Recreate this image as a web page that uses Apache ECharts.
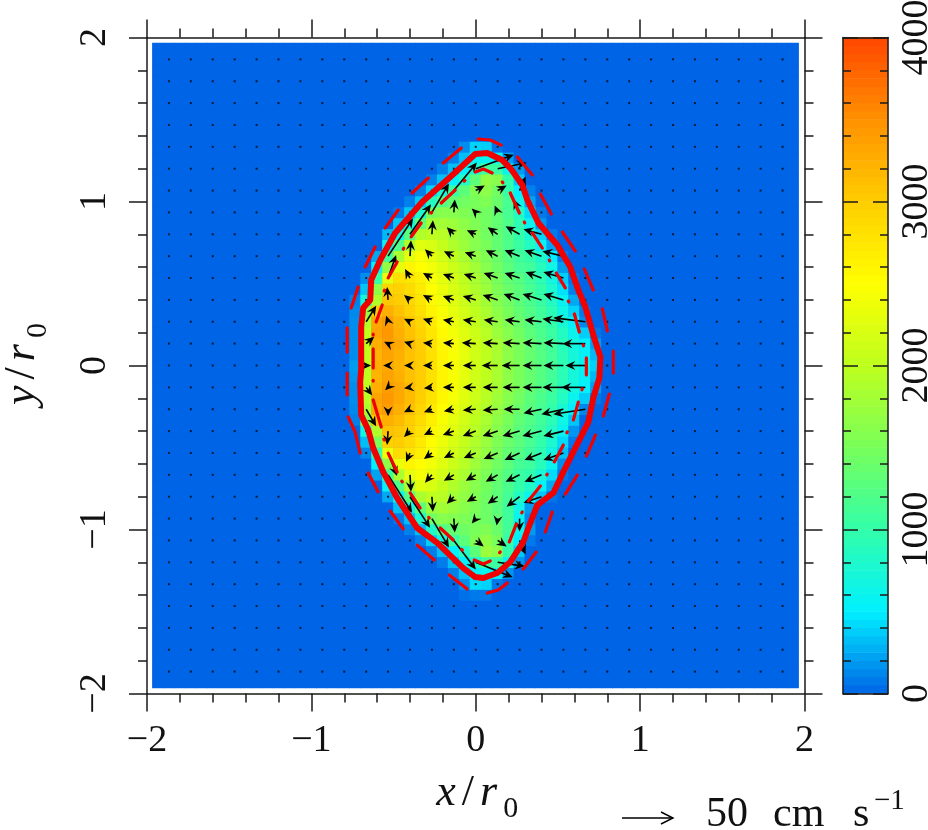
<!DOCTYPE html>
<html>
<head>
<meta charset="utf-8">
<style>html,body{margin:0;padding:0;background:#fff}#c{width:928px;height:830px}</style>
<script src="https://cdn.jsdelivr.net/npm/echarts@6/dist/echarts.min.js"></script>
</head>
<body>
<div id="c"></div>
<script>
// Colour-field rows: [row index j (y = j/15), first column k (x = k/15), values...]; everything else is 0
const fieldRowsTop = [
 [20,-1,[150,400,380,60]],
 [19,-2,[100,330,550,600,550,200]],
 [18,-3,[100,330,520,800,1100,1050,600,200]],
 [17,-4,[100,330,520,850,1300,1700,1600,1000,350]],
 [16,-5,[100,400,750,1050,1300,1550,1650,1450,1000,520,100]],
 [15,-6,[100,350,850,1250,1350,1450,1500,1550,1400,1150,620,220]],
 [14,-7,[80,350,800,1500,1600,1600,1550,1500,1450,1350,1150,850,420,80]],
 [13,-7,[350,700,1350,1800,1800,1750,1650,1550,1450,1350,1200,950,600,180]],
 [12,-8,[300,650,1250,1900,2000,1950,1800,1700,1600,1450,1350,1200,1000,750,400,80]],
 [11,-8,[600,1200,1900,2250,2200,2050,1900,1750,1600,1500,1350,1200,1050,850,560,220]],
 [10,-9,[250,1100,1850,2300,2450,2300,2150,2000,1850,1700,1550,1400,1250,1100,1000,800,500,80]],
 [9,-9,[550,1700,2300,2600,2500,2400,2250,2100,1950,1800,1600,1450,1300,1150,1100,900,650,200]],
 [8,-10,[150,1000,2300,2800,2750,2650,2450,2300,2150,2000,1850,1700,1500,1350,1250,1100,950,700,380,60]],
 [7,-10,[350,1650,2900,2950,2850,2700,2500,2350,2200,2050,1900,1750,1550,1400,1300,1150,1000,780,450,100]],
 [6,-11,[100,700,1900,3050,3000,2900,2750,2550,2400,2250,2100,1950,1800,1600,1450,1300,1180,1050,850,580,250]],
 [5,-11,[130,1700,3000,3250,3100,2950,2800,2600,2450,2300,2150,2000,1850,1650,1500,1350,1220,1100,930,650,400,80]],
 [4,-11,[150,1900,3300,3400,3200,3050,2900,2700,2500,2350,2200,2050,1900,1700,1550,1400,1270,1150,1000,750,500,130]],
 [3,-11,[150,2000,3350,3450,3250,3100,2950,2750,2550,2400,2250,2100,1950,1750,1600,1450,1300,1180,1050,850,600,380,60]],
 [2,-11,[150,2050,3250,3400,3300,3150,3000,2800,2600,2450,2280,2120,1980,1830,1640,1490,1350,1220,1100,900,680,520,200]],
 [1,-11,[150,2000,3200,3350,3250,3100,3000,2800,2600,2450,2300,2130,2000,1850,1650,1500,1370,1250,1120,920,720,540,300]],
 [0,-11,[200,1950,3250,3300,3200,3100,3000,2800,2600,2450,2300,2130,2000,1850,1650,1500,1370,1250,1130,950,750,570,400]]
];
const fieldRowsBottom = [
 [-1,-11,[180,2000,3200,3350,3250,3100,3000,2800,2600,2450,2300,2130,2000,1850,1650,1500,1370,1250,1120,920,720,540,300]],
 [-2,-11,[150,2000,3250,3400,3300,3150,3000,2800,2600,2450,2280,2120,1980,1830,1640,1490,1350,1220,1100,900,680,520,200]],
 [-3,-11,[150,1950,3350,3450,3300,3150,2980,2780,2580,2420,2260,2100,1950,1780,1610,1450,1300,1180,1050,850,600,380,60]],
 [-4,-11,[130,1850,3300,3400,3250,3100,2920,2720,2520,2360,2200,2050,1900,1720,1560,1400,1270,1150,1000,750,500,120]],
 [-5,-11,[100,1600,3050,3250,3150,3000,2850,2650,2450,2300,2150,2000,1850,1660,1500,1340,1220,1100,930,650,350]],
 [-6,-10,[700,1900,3100,3050,2950,2780,2580,2400,2250,2100,1950,1800,1600,1450,1290,1180,1050,850,580,180]],
 [-7,-10,[320,1500,2950,3000,2880,2720,2520,2350,2200,2050,1900,1740,1550,1400,1290,1150,1000,780,420,70]],
 [-8,-10,[120,950,2350,2850,2780,2650,2460,2300,2150,2000,1850,1690,1500,1350,1250,1100,950,680,320]],
 [-9,-9,[500,1650,2350,2600,2520,2400,2250,2100,1950,1780,1600,1450,1300,1140,1080,900,600,150]],
 [-10,-9,[230,1050,1850,2300,2430,2300,2150,2000,1850,1680,1530,1380,1230,1060,980,750,430,80]],
 [-11,-8,[550,1200,1900,2250,2200,2050,1900,1750,1600,1480,1330,1180,1000,820,560,250]],
 [-12,-8,[250,600,1250,1850,2000,1950,1800,1680,1560,1430,1300,1130,850,600,350,60]],
 [-13,-7,[320,680,1300,1750,1800,1720,1620,1520,1420,1300,1080,650,200]],
 [-14,-7,[80,320,780,1450,1600,1580,1530,1480,1430,1330,1100,600,130]],
 [-15,-6,[100,320,820,1230,1350,1430,1500,1550,1400,1100,600,200]],
 [-16,-5,[100,380,720,1030,1300,1550,1680,1500,1000,500,80]],
 [-17,-4,[90,320,520,850,1300,1750,1650,1000,350]],
 [-18,-3,[90,320,520,800,1100,1050,600,180]],
 [-19,-2,[100,330,550,600,500,180]],
 [-20,-1,[150,420,400,70]],
 [-21,-1,[50,80,80]]
];
// Velocity field in cm/s. Rows y = 9..-9 (x 2/15 steps), columns x index -5..5 (2/15 steps)
const arrowRowIndex = [9,8,7,6,5,4,3,2,1,0,-1,-2,-3,-4,-5,-6,-7,-8,-9];
const arrowU = [
 [0,0,0,0,0,38,29,0,0,0,0],
 [0,0,0,0,23,9,9,6,0,0,0],
 [0,0,0,17,1,-4,-3,-6,0,0,0],
 [0,0,21,1,-7,-9,-10,-14,-18,0,0],
 [0,25,1,-7,-10,-11,-12,-15,-17,-21,0],
 [0,8,-5,-9,-11,-12,-14,-15,-16,-20,0],
 [0,-1,-6,-9,-11,-13,-15,-16,-19,-20,0],
 [10,-2,-6,-9,-11,-13,-14,-15,-17,-21,-32],
 [8,-4,-6,-9,-11,-14,-15,-17,-19,-20,-23],
 [5,-5,-6,-9,-11,-13,-16,-18,-19,-20,-20],
 [6,-3,-6,-8,-11,-13,-15,-17,-19,-21,-24],
 [10,0,-6,-8,-10,-13,-15,-16,-18,-22,-32],
 [0,-1,-6,-8,-11,-13,-15,-17,-19,-20,0],
 [0,9,-4,-8,-10,-12,-14,-15,-17,-20,0],
 [0,24,1,-7,-10,-10,-12,-14,-17,0,0],
 [0,0,20,1,-7,-9,-10,-13,-18,0,0],
 [0,0,0,17,1,-4,-1,0,0,0,0],
 [0,0,0,0,22,8,9,6,0,0,0],
 [0,0,0,0,0,37,27,0,0,0,0]
];
const arrowV = [
 [0,0,0,0,0,14,6,0,0,0,0],
 [0,0,0,0,28,5,5,14,0,0,0],
 [0,0,0,29,13,4,7,13,0,0,0],
 [0,0,30,14,7,4,7,8,5,0,0],
 [0,38,16,7,5,4,6,6,6,5,0],
 [0,23,9,5,4,4,5,5,6,6,0],
 [0,13,5,5,4,4,5,6,6,6,0],
 [16,6,3,3,2,2,2,2,2,3,4],
 [7,2,2,1,1,1,1,1,1,1,0],
 [0,0,0,0,0,0,0,0,0,0,0],
 [-8,-3,-1,-1,0,0,0,0,0,0,0],
 [-17,-7,-3,-3,-2,-1,-1,0,-4,-5,-5],
 [0,-14,-6,-4,-4,-5,-5,-5,-5,-5,0],
 [0,-23,-9,-6,-5,-5,-6,-7,-7,-7,0],
 [0,-38,-17,-8,-6,-6,-7,-7,-7,0,0],
 [0,0,-31,-15,-7,-5,-7,-10,-6,0,0],
 [0,0,0,-29,-14,-5,-7,-13,0,0,0],
 [0,0,0,0,-29,-6,-6,-14,0,0,0],
 [0,0,0,0,0,-15,-4,0,0,0,0]
];
// Contours (x/r0, y/r0)
const contourMain = [[-.697,-.027],[-.697,.235],[-.685,.351],[-.642,.399],[-.636,.521],[-.581,.643],[-.49,.808],[-.326,.997],[-.155,1.149],[-.003,1.29],[.07,1.296],[.161,1.253],[.21,1.204],[.283,1.101],[.314,1.009],[.381,.869],[.496,.735],[.575,.601],[.624,.46],[.667,.357],[.715,.186],[.758,.052],[.752,-.076],[.715,-.198],[.685,-.345],[.624,-.466],[.533,-.649],[.472,-.777],[.374,-.851],[.32,-.991],[.289,-1.076],[.21,-1.198],[.131,-1.265],[.046,-1.296],[-.003,-1.29],[-.076,-1.235],[-.234,-1.082],[-.356,-.991],[-.478,-.808],[-.563,-.649],[-.624,-.503],[-.654,-.393],[-.697,-.302],[-.703,-.101],[-.697,-.027]];
const contourOuter = [
 [[.015,1.381],[.088,1.375],[.155,1.344]],[[-.198,1.235],[-.088,1.326]],[[-.387,1.052],[-.289,1.143]],[[-.551,.838],[-.472,.948]],
 [[-.673,.601],[-.612,.723]],[[-.758,.351],[-.715,.479]],[[-.782,.229],[-.782,.082]],[[-.782,-.046],[-.782,-.18]],
 [[-.776,-.314],[-.734,-.405],[-.703,-.534]],[[-.654,-.655],[-.594,-.771]],[[-.521,-.887],[-.441,-.997]],[[-.356,-1.095],[-.253,-1.186]],
 [[-.161,-1.277],[-.052,-1.363]],[[.07,-1.387],[.137,-1.369],[.192,-1.326]],[[.289,-1.241],[.368,-1.137]],[[.423,-1.015],[.466,-.893]],
 [[.545,-.784],[.618,-.668]],[[.673,-.552],[.728,-.424]],[[.776,-.308],[.813,-.174]],[[.837,.088],[.837,-.046]],
 [[.77,.345],[.801,.21]],[[.661,.588],[.715,.46]],[[.527,.814],[.606,.698]],[[.393,1.046],[.46,.924]],[[.253,1.271],[.344,1.162]]
];
const contourInner = [
 [[-.003,1.18],[.046,1.198],[.1,1.174]],[[.161,1.119],[.165,1.114]],[[.21,1.052],[.265,.93]],[[.295,.875],[.298,.87]],
 [[.344,.808],[.405,.716]],[[.447,.643],[.45,.638]],[[.49,.564],[.545,.473]],[[.563,.393],[.566,.388]],
 [[.6,.314],[.63,.204]],[[.654,.125],[.656,.12]],[[.673,.046],[.673,-.058]],[[.648,-.143],[.646,-.148]],
 [[.624,-.223],[.594,-.332]],[[.557,-.405],[.554,-.41]],[[.533,-.485],[.478,-.588]],[[.435,-.662],[.432,-.667]],
 [[.393,-.735],[.32,-.826]],[[.283,-.893],[.28,-.898]],[[.247,-.966],[.204,-1.076]],[[.149,-1.137],[.145,-1.141]],
 [[.088,-1.192],[.046,-1.21],[-.009,-1.186]],[[-.082,-1.125],[-.086,-1.121]],[[-.137,-1.064],[-.216,-.991]],[[-.283,-.93],[-.286,-.926]],
 [[-.338,-.869],[-.399,-.777]],[[-.447,-.71],[-.45,-.705]],[[-.478,-.649],[-.533,-.534]],[[-.557,-.454],[-.559,-.449]],
 [[-.575,-.375],[-.624,-.21]],[[-.624,-.095],[-.624,-.09]],[[-.624,-.015],[-.624,.101]],[[-.624,.186],[-.624,.191]],
 [[-.606,.265],[-.569,.369]],[[-.557,.454],[-.555,.459]],[[-.533,.534],[-.478,.631]],[[-.441,.71],[-.438,.715]],
 [[-.393,.784],[-.332,.869]],[[-.271,.93],[-.268,.934]],[[-.21,.991],[-.125,1.07]],[[-.07,1.125],[-.066,1.129]]
];
const plotTicks = {min:-2,max:2,interval:1};
const barTicks = {min:0,max:4000,interval:1000};
const colorStops = ['#0064e6','#00f0ff','#32ffaa','#78ff5a','#beff1e','#ffff00','#ffcd00','#ff9100','#ff4600'];

const SERIF = '"Liberation Serif", serif';
const INK = '#1a1a1a';
const fieldKeys = []; for (let k=-29;k<=29;k++) fieldKeys.push(k);
const cell = {};
[...fieldRowsTop,...fieldRowsBottom].forEach(([j,k0,vals])=>vals.forEach((v,i)=>{cell[j+'_'+(k0+i)]=v;}));
const fieldData = [];
fieldKeys.forEach((j,yi)=>fieldKeys.forEach((k,xi)=>fieldData.push([xi,yi,cell[j+'_'+k]||0])));

// Velocity field on every second cell
const cmPerUnit = 164.25;
const arrowData = [];
for (let j=-14;j<=14;j++) for (let k=-14;k<=14;k++){
  const r = arrowRowIndex.indexOf(j), c = k+5;
  const u = (r>=0 && c>=0 && c<11) ? arrowU[r][c] : 0;
  const v = (r>=0 && c>=0 && c<11) ? arrowV[r][c] : 0;
  const x = k*2/15, y = j*2/15;
  arrowData.push([x,y,x+u/cmPerUnit,y+v/cmPerUnit]);
}
const barLevels = []; for (let i=0;i<80;i++) barLevels.push(i);
const barData = barLevels.map(i=>[0,i,(i+0.5)*barTicks.max/80]);
const segs = list => list.flatMap(s=>[...s,['-','-']]);

function renderArrow(params, api){
  const a = api.coord([api.value(0),api.value(1)]);
  const b = api.coord([api.value(2),api.value(3)]);
  const dx=b[0]-a[0], dy=b[1]-a[1], len=Math.hypot(dx,dy);
  if (len<0.5) return {type:'rect',shape:{x:a[0]-1,y:a[1]-1,width:2,height:2},style:{fill:'#0a1a30'}};
  const ux=dx/len, uy=dy/len, H=10, W=4.6, N=6.5;
  const px=-uy, py=ux;
  return {type:'group',children:[
    {type:'line',shape:{x1:a[0],y1:a[1],x2:b[0]-ux*3,y2:b[1]-uy*3},style:{stroke:'#000',lineWidth:1.6}},
    {type:'polygon',shape:{points:[[b[0],b[1]],[b[0]-ux*H+px*W,b[1]-uy*H+py*W],[b[0]-ux*N,b[1]-uy*N],[b[0]-ux*H-px*W,b[1]-uy*H-py*W]]},style:{fill:'#000'}}
  ]};
}
const minusFmt = v => String(v).replace('-','\u2212');
const tickLabel = (show,extra)=>Object.assign({show,fontFamily:SERIF,fontSize:38,color:'#111',formatter:minusFmt,showMinLabel:true,showMaxLabel:true,hideOverlap:false},extra||{});
const lineS = {color:INK,width:1.5};
const valAxis = (grid,pos,labelOn,extra)=>Object.assign({
  type:'value',gridIndex:grid,position:pos,min:plotTicks.min,max:plotTicks.max,interval:plotTicks.interval,z:6,
  axisLine:{show:true,onZero:false,lineStyle:lineS},
  axisTick:{show:true,length:18,lineStyle:lineS},
  minorTick:{show:true,splitNumber:5,length:9,lineStyle:lineS},
  splitLine:{show:false},minorSplitLine:{show:false},
  axisLabel:tickLabel(labelOn)
},extra||{});
const nameRich = {
  i:{fontFamily:SERIF,fontStyle:'italic',fontSize:44,color:'#111',padding:[0,3,9,3]},
  n:{fontFamily:SERIF,fontSize:44,color:'#111',padding:[0,3,9,3]},
  s:{fontFamily:SERIF,fontSize:30,color:'#111',verticalAlign:'bottom',padding:[0,0,0,3]}
};
const hidden = (type,grid,extra)=>Object.assign({type,gridIndex:grid,show:false},extra||{});
const noBounds = {outerBoundsMode:'none',containLabel:false};

const option = {
  animation:false,
  backgroundColor:'#fff',
  grid:[
    {left:152.48,top:43,width:646.05,height:645,show:true,borderWidth:0,backgroundColor:colorStops[0],...noBounds},
    {left:147,top:37.5,width:657.5,height:656,show:false,...noBounds},
    {left:843,top:37.5,width:45,height:656,show:false,...noBounds},
    {left:843,top:37.5,width:45,height:656,show:false,...noBounds}
  ],
  visualMap:[{type:'continuous',show:false,min:barTicks.min,max:barTicks.max,seriesIndex:[0,5],dimension:2,inRange:{color:colorStops}}],
  xAxis:[
    hidden('category',0,{data:fieldKeys}),
    valAxis(1,'bottom',true,{name:'{i|x}{n|/}{i|r}{s|0}',nameLocation:'middle',nameGap:78,nameTextStyle:{rich:nameRich},axisLabel:tickLabel(true,{margin:29})}),
    valAxis(1,'top',false),
    hidden('category',2,{data:['c']}),
    {type:'value',gridIndex:3,position:'top',min:0,max:1,z:6,axisLine:{show:true,onZero:false,lineStyle:lineS},axisTick:{show:false},axisLabel:{show:false},splitLine:{show:false}},
    {type:'value',gridIndex:3,position:'bottom',min:0,max:1,z:6,axisLine:{show:true,onZero:false,lineStyle:lineS},axisTick:{show:false},axisLabel:{show:false},splitLine:{show:false}}
  ],
  yAxis:[
    hidden('category',0,{data:fieldKeys}),
    valAxis(1,'left',true,{name:'{i|y}{n|/}{i|r}{s|0}',nameLocation:'middle',nameRotate:90,nameGap:94,nameTextStyle:{rich:nameRich},axisLabel:tickLabel(true,{rotate:90,margin:33})}),
    valAxis(1,'right',false),
    hidden('category',2,{data:barLevels}),
    {type:'value',gridIndex:3,position:'left',min:barTicks.min,max:barTicks.max,interval:barTicks.interval,z:6,
      axisLine:{show:true,onZero:false,lineStyle:lineS},axisTick:{show:true,inside:true,length:15,lineStyle:lineS},
      minorTick:{show:true,splitNumber:5,length:8,lineStyle:lineS},splitLine:{show:false},axisLabel:{show:false}},
    {type:'value',gridIndex:3,position:'right',min:barTicks.min,max:barTicks.max,interval:barTicks.interval,z:6,
      axisLine:{show:true,onZero:false,lineStyle:lineS},axisTick:{show:true,inside:true,length:15,lineStyle:lineS},
      minorTick:{show:true,splitNumber:5,length:8,lineStyle:lineS},splitLine:{show:false},
      axisLabel:tickLabel(true,{rotate:90,margin:10})}
  ],
  series:[
    {type:'heatmap',xAxisIndex:0,yAxisIndex:0,data:fieldData,progressive:0,z:1,silent:true,emphasis:{disabled:true}},
    {type:'custom',xAxisIndex:1,yAxisIndex:1,data:arrowData,renderItem:renderArrow,encode:{x:[0,2],y:[1,3]},z:3,silent:true,clip:false},
    {type:'line',xAxisIndex:1,yAxisIndex:1,data:contourMain,showSymbol:false,symbol:'none',lineStyle:{color:'#f00000',width:6,join:'round',cap:'round'},z:4,silent:true},
    {type:'line',xAxisIndex:1,yAxisIndex:1,data:segs(contourOuter),connectNulls:false,showSymbol:false,symbol:'none',lineStyle:{color:'#f00000',width:3.2,cap:'round'},z:4,silent:true},
    {type:'line',xAxisIndex:1,yAxisIndex:1,data:segs(contourInner),connectNulls:false,showSymbol:false,symbol:'none',lineStyle:{color:'#f00000',width:3.2,cap:'round'},z:4,silent:true},
    {type:'heatmap',xAxisIndex:3,yAxisIndex:3,data:barData,progressive:0,z:1,silent:true,emphasis:{disabled:true}}
  ],
  graphic:[
    {type:'line',shape:{x1:622,y1:818,x2:673,y2:818},style:{stroke:'#000',lineWidth:1.4},z:10},
    {type:'polyline',shape:{points:[[661,812],[673,818],[661,824]]},style:{stroke:'#000',lineWidth:1.4,fill:null},z:10},
    {type:'text',x:706,y:836,style:{text:'50',fontFamily:SERIF,fontSize:42,fill:'#111',verticalAlign:'bottom'},z:10},
    {type:'text',x:773,y:836,style:{text:'cm',fontFamily:SERIF,fontSize:42,fill:'#111',verticalAlign:'bottom'},z:10},
    {type:'text',x:853,y:836,style:{text:'s',fontFamily:SERIF,fontSize:42,fill:'#111',verticalAlign:'bottom'},z:10},
    {type:'text',x:874,y:816,style:{text:'\u22121',fontFamily:SERIF,fontSize:29,fill:'#111',verticalAlign:'bottom'},z:10}
  ]
};
const chart = echarts.init(document.getElementById('c'),null,{renderer:'canvas',width:928,height:830});
chart.setOption(option);
</script>
</body>
</html>
